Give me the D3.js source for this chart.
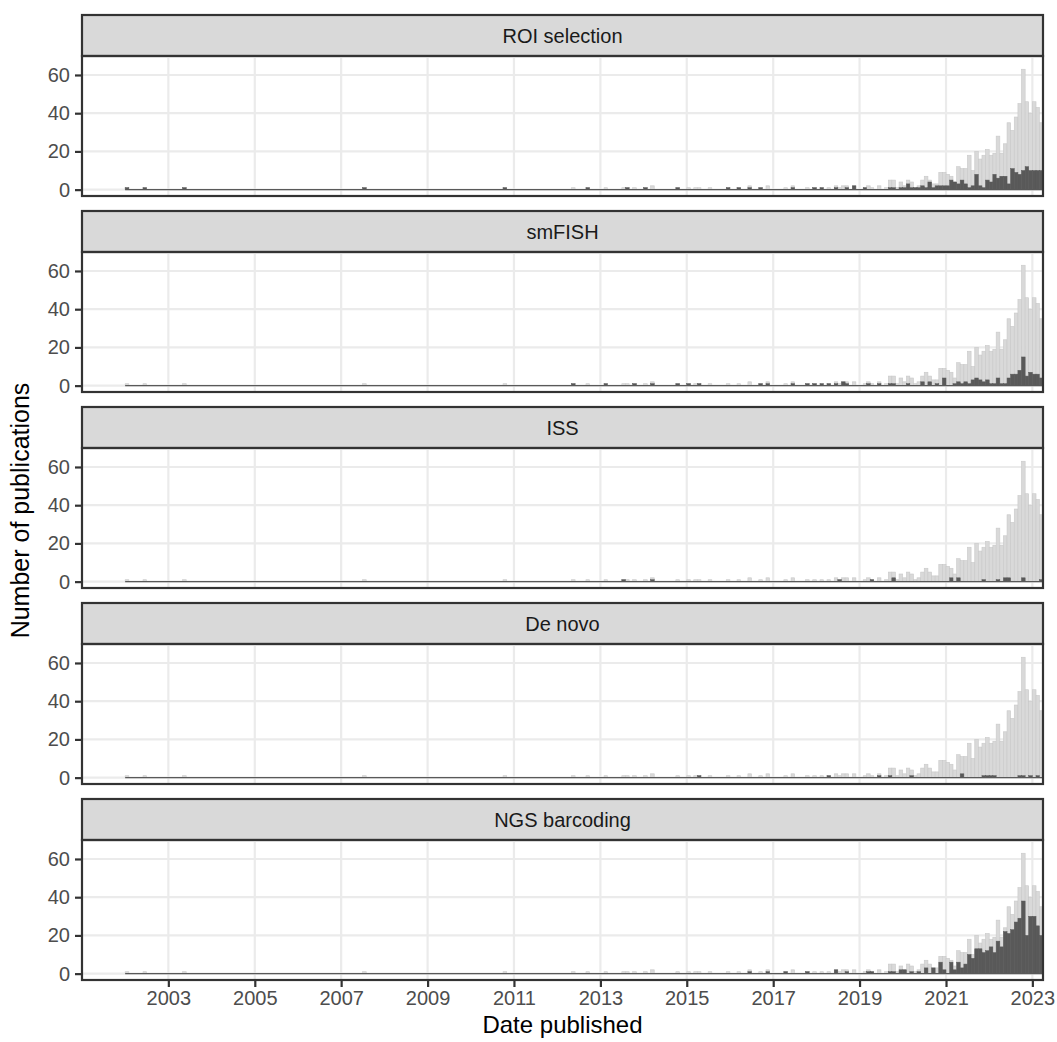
<!DOCTYPE html>
<html>
<head>
<meta charset="utf-8">
<script src="https://cdn.jsdelivr.net/npm/d3@7"></script>
<style>
  body { margin: 0; background: #ffffff; }
  text { font-family: "Liberation Sans", Arial, sans-serif; }
</style>
</head>
<body>
<script>
var w = 1057;
var h = 1042;

// facet names, top to bottom
var methods = ["ROI selection", "smFISH", "ISS", "De novo", "NGS barcoding"];
var yearTicks = [2003, 2005, 2007, 2009, 2011, 2013, 2015, 2017, 2019, 2021, 2023];
var yTicks = [0, 20, 40, 60];

// monthly counts, Jan 2002 .. Mar 2023, one year per line
// all publications (light bars, same in every panel)
var total = [
  1,0,0,0,0,1,0,0,0,0,0,0,
  0,0,0,0,1,0,0,0,0,0,0,0,
  0,0,0,0,0,0,0,0,0,0,0,0,
  0,0,0,0,0,0,0,0,0,0,0,0,
  0,0,0,0,0,0,0,0,0,0,0,0,
  0,0,0,0,0,0,1,0,0,0,0,0,
  0,0,0,0,0,0,0,0,0,0,0,0,
  0,0,0,0,0,0,0,0,0,0,0,0,
  0,0,0,0,0,0,0,0,0,1,0,0,
  0,0,0,0,0,0,0,0,0,0,0,0,
  0,0,0,0,1,0,0,0,1,0,0,0,
  0,1,0,0,0,0,1,1,0,1,0,0,
  1,0,2,0,0,0,0,0,0,1,0,0,
  1,0,1,1,0,0,1,0,0,0,0,1,
  0,0,1,0,0,2,0,0,1,0,2,0,
  0,0,0,1,0,2,0,0,0,1,0,1,
  0,1,0,1,0,2,1,2,2,0,2,0,
  0,1,2,1,0,2,0,1,5,5,1,4,
  2,5,4,1,2,5,7,5,3,3,9,9,
  8,7,4,12,11,11,18,10,20,16,18,21,
  18,19,28,19,24,35,31,38,45,63,46,40,
  46,43,35
];

var roi = [
  1,0,0,0,0,1,0,0,0,0,0,0,
  0,0,0,0,1,0,0,0,0,0,0,0,
  0,0,0,0,0,0,0,0,0,0,0,0,
  0,0,0,0,0,0,0,0,0,0,0,0,
  0,0,0,0,0,0,0,0,0,0,0,0,
  0,0,0,0,0,0,1,0,0,0,0,0,
  0,0,0,0,0,0,0,0,0,0,0,0,
  0,0,0,0,0,0,0,0,0,0,0,0,
  0,0,0,0,0,0,0,0,0,1,0,0,
  0,0,0,0,0,0,0,0,0,0,0,0,
  0,0,0,0,0,0,0,0,1,0,0,0,
  0,0,0,0,0,0,0,1,0,0,0,0,
  1,0,0,0,0,0,0,0,0,1,0,0,
  0,0,0,0,0,0,0,0,0,0,0,1,
  0,0,1,0,0,1,0,0,1,0,0,0,
  0,0,0,0,0,1,0,0,0,0,0,1,
  0,1,0,0,0,1,0,0,1,0,2,0,
  0,1,0,0,0,0,0,0,1,1,0,1,
  1,3,1,1,1,2,1,4,1,2,2,2,
  2,5,4,3,5,3,1,2,8,2,1,5,
  4,8,6,7,7,3,11,9,8,10,12,10,
  10,10,10
];

var smfish = [
  0,0,0,0,0,0,0,0,0,0,0,0,
  0,0,0,0,0,0,0,0,0,0,0,0,
  0,0,0,0,0,0,0,0,0,0,0,0,
  0,0,0,0,0,0,0,0,0,0,0,0,
  0,0,0,0,0,0,0,0,0,0,0,0,
  0,0,0,0,0,0,0,0,0,0,0,0,
  0,0,0,0,0,0,0,0,0,0,0,0,
  0,0,0,0,0,0,0,0,0,0,0,0,
  0,0,0,0,0,0,0,0,0,0,0,0,
  0,0,0,0,0,0,0,0,0,0,0,0,
  0,0,0,0,1,0,0,0,0,0,0,0,
  0,1,0,0,0,0,0,0,0,1,0,0,
  0,0,1,0,0,0,0,0,0,1,0,0,
  1,0,0,1,0,0,0,0,0,0,0,0,
  0,0,0,0,0,0,0,0,1,0,1,0,
  0,0,0,0,0,1,0,0,0,1,0,1,
  0,1,0,1,0,1,0,2,1,0,0,0,
  0,0,1,0,0,1,0,0,1,1,0,0,
  0,1,0,0,0,2,0,2,0,1,0,4,
  0,0,1,2,1,2,1,3,4,3,2,3,
  1,1,4,1,1,4,6,6,8,15,5,7,
  6,6,4
];

var iss = [
  0,0,0,0,0,0,0,0,0,0,0,0,
  0,0,0,0,0,0,0,0,0,0,0,0,
  0,0,0,0,0,0,0,0,0,0,0,0,
  0,0,0,0,0,0,0,0,0,0,0,0,
  0,0,0,0,0,0,0,0,0,0,0,0,
  0,0,0,0,0,0,0,0,0,0,0,0,
  0,0,0,0,0,0,0,0,0,0,0,0,
  0,0,0,0,0,0,0,0,0,0,0,0,
  0,0,0,0,0,0,0,0,0,0,0,0,
  0,0,0,0,0,0,0,0,0,0,0,0,
  0,0,0,0,0,0,0,0,0,0,0,0,
  0,0,0,0,0,0,1,0,0,0,0,0,
  0,0,1,0,0,0,0,0,0,0,0,0,
  0,0,0,0,0,0,0,0,0,0,0,0,
  0,0,0,0,0,0,0,0,0,0,0,0,
  0,0,0,0,0,0,0,0,0,0,0,0,
  0,0,0,0,0,0,1,0,0,0,0,0,
  0,0,0,1,0,0,0,0,0,2,0,0,
  0,0,0,0,0,0,0,0,0,0,0,0,
  0,2,0,2,0,0,0,0,0,0,1,0,
  0,0,1,0,2,2,0,0,0,2,0,0,
  0,0,1
];

var denovo = [
  0,0,0,0,0,0,0,0,0,0,0,0,
  0,0,0,0,0,0,0,0,0,0,0,0,
  0,0,0,0,0,0,0,0,0,0,0,0,
  0,0,0,0,0,0,0,0,0,0,0,0,
  0,0,0,0,0,0,0,0,0,0,0,0,
  0,0,0,0,0,0,0,0,0,0,0,0,
  0,0,0,0,0,0,0,0,0,0,0,0,
  0,0,0,0,0,0,0,0,0,0,0,0,
  0,0,0,0,0,0,0,0,0,0,0,0,
  0,0,0,0,0,0,0,0,0,0,0,0,
  0,0,0,0,0,0,0,0,0,0,0,0,
  0,0,0,0,0,0,0,0,0,0,0,0,
  0,0,0,0,0,0,0,0,0,0,0,0,
  0,0,0,1,0,0,0,0,0,0,0,0,
  0,0,0,0,0,0,0,0,0,0,0,0,
  0,0,0,0,0,0,0,0,0,0,0,0,
  0,0,0,1,0,0,0,0,0,0,0,0,
  0,0,0,0,0,1,0,0,1,0,0,0,
  0,0,1,0,0,0,0,0,0,0,0,0,
  0,0,0,0,2,0,0,0,0,0,1,1,
  1,1,0,0,0,0,0,0,1,1,0,1,
  0,1,0
];

var ngs = [
  0,0,0,0,0,0,0,0,0,0,0,0,
  0,0,0,0,0,0,0,0,0,0,0,0,
  0,0,0,0,0,0,0,0,0,0,0,0,
  0,0,0,0,0,0,0,0,0,0,0,0,
  0,0,0,0,0,0,0,0,0,0,0,0,
  0,0,0,0,0,0,0,0,0,0,0,0,
  0,0,0,0,0,0,0,0,0,0,0,0,
  0,0,0,0,0,0,0,0,0,0,0,0,
  0,0,0,0,0,0,0,0,0,0,0,0,
  0,0,0,0,0,0,0,0,0,0,0,0,
  0,0,0,0,0,0,0,0,0,0,0,0,
  0,0,0,0,0,0,0,0,0,0,0,0,
  0,0,0,0,0,0,0,0,0,0,0,0,
  0,0,0,0,0,0,0,0,0,0,0,0,
  0,0,0,0,0,1,0,0,0,0,1,0,
  0,0,0,1,0,0,0,0,0,1,0,0,
  0,0,0,0,0,2,0,0,1,0,0,0,
  0,0,1,1,0,0,0,0,1,1,0,2,
  2,0,1,0,1,0,3,0,3,0,6,2,
  0,6,2,6,3,5,10,8,13,13,11,12,
  14,11,17,14,22,21,23,27,29,38,20,30,
  30,25,20
];

var series = [roi, smfish, iss, denovo, ngs];

// one bin per month
var months = d3.timeMonth.range(new Date(2002, 0, 1), new Date(2023, 3, 1));

var panelLeft = 82;
var panelRight = 1043;
var facetTop = 15;      // top of first strip
var facetStep = 196;    // distance between facets
var stripH = 41;
var panelH = 140;

var lightFill = "#d9d9d9";
var darkFill = "#595959";
var lineCol = "#333333";

var svg = d3.select("body")
            .append("svg")
            .attr("width", w)
            .attr("height", h);

var xScale = d3.scaleTime()
               .domain([new Date(2001, 0, 1), new Date(2023, 3, 1)])
               .range([panelLeft, panelRight]);

var yScale = d3.scaleLinear()
               .domain([-3.33, 69.93])
               .range([panelH, 0]);

function barX(d, i) {
    return xScale(months[i]);
}
function barW(d, i) {
    return xScale(d3.timeMonth.offset(months[i], 1)) - xScale(months[i]);
}

methods.forEach(function (name, k) {
    var g = svg.append("g")
               .attr("transform", "translate(0," + (facetTop + k * facetStep) + ")");

    // strip
    g.append("rect")
     .attr("x", panelLeft)
     .attr("y", 0)
     .attr("width", panelRight - panelLeft)
     .attr("height", stripH)
     .attr("fill", "#d9d9d9")
     .attr("stroke", lineCol)
     .attr("stroke-width", 2.2);

    g.append("text")
     .attr("x", (panelLeft + panelRight) / 2)
     .attr("y", stripH / 2 + 7)
     .attr("text-anchor", "middle")
     .attr("font-size", 20)
     .attr("fill", "#1a1a1a")
     .text(name);

    var p = g.append("g")
             .attr("transform", "translate(0," + stripH + ")");

    // grid
    p.selectAll(".hgrid")
     .data(yTicks)
     .enter()
     .append("line")
     .attr("x1", panelLeft)
     .attr("x2", panelRight)
     .attr("y1", function (d) { return yScale(d); })
     .attr("y2", function (d) { return yScale(d); })
     .attr("stroke", "#ebebeb")
     .attr("stroke-width", 2.2);

    p.selectAll(".vgrid")
     .data(yearTicks)
     .enter()
     .append("line")
     .attr("x1", function (d) { return xScale(new Date(d, 0, 1)); })
     .attr("x2", function (d) { return xScale(new Date(d, 0, 1)); })
     .attr("y1", 0)
     .attr("y2", panelH)
     .attr("stroke", "#ebebeb")
     .attr("stroke-width", 2.2);

    // all publications
    p.selectAll(".light")
     .data(total)
     .enter()
     .append("rect")
     .attr("x", barX)
     .attr("width", barW)
     .attr("y", function (d) { return yScale(d); })
     .attr("height", function (d) { return yScale(0) - yScale(d); })
     .attr("fill", lightFill)
     .attr("stroke", "#c9c9c9")
     .attr("stroke-width", 0.6);

    // publications using this method
    p.selectAll(".dark")
     .data(series[k])
     .enter()
     .append("rect")
     .attr("x", barX)
     .attr("width", barW)
     .attr("y", function (d) { return yScale(d); })
     .attr("height", function (d) { return yScale(0) - yScale(d); })
     .attr("fill", darkFill)
     .attr("stroke", darkFill)
     .attr("stroke-width", 0.5);

    // zero-height bins still show as a thin line
    p.append("line")
     .attr("x1", xScale(months[0]))
     .attr("x2", xScale(d3.timeMonth.offset(months[months.length - 1], 1)))
     .attr("y1", yScale(0))
     .attr("y2", yScale(0))
     .attr("stroke", darkFill)
     .attr("stroke-width", 1.3);

    // border
    p.append("rect")
     .attr("x", panelLeft)
     .attr("y", 0)
     .attr("width", panelRight - panelLeft)
     .attr("height", panelH)
     .attr("fill", "none")
     .attr("stroke", lineCol)
     .attr("stroke-width", 2.2);

    var yAxis = d3.axisLeft(yScale)
                  .tickValues(yTicks)
                  .tickSize(6)
                  .tickPadding(5);

    var ya = p.append("g")
              .attr("transform", "translate(" + (panelLeft - 1) + ",0)")
              .call(yAxis);
    ya.select(".domain").remove();
    ya.selectAll("line").attr("stroke", lineCol).attr("stroke-width", 2.2);
    ya.selectAll("text")
      .attr("font-size", 20)
      .attr("font-family", null)
      .attr("fill", "#4d4d4d");

    if (k === methods.length - 1) {
        var xAxis = d3.axisBottom(xScale)
                      .tickValues(yearTicks.map(function (d) { return new Date(d, 0, 1); }))
                      .tickFormat(d3.timeFormat("%Y"))
                      .tickSize(6)
                      .tickPadding(4);
        var xa = p.append("g")
                  .attr("transform", "translate(0," + (panelH + 1) + ")")
                  .call(xAxis);
        xa.select(".domain").remove();
        xa.selectAll("line").attr("stroke", lineCol).attr("stroke-width", 2.2);
        xa.selectAll("text")
          .attr("font-size", 20)
          .attr("font-family", null)
          .attr("fill", "#4d4d4d");
    }
});

// axis titles
svg.append("text")
   .attr("x", (panelLeft + panelRight) / 2)
   .attr("y", 1033)
   .attr("text-anchor", "middle")
   .attr("font-size", 24)
   .attr("fill", "#000000")
   .text("Date published");

svg.append("text")
   .attr("transform", "translate(29," + ((facetTop + stripH + 4 * facetStep + stripH + panelH) / 2) + ") rotate(-90)")
   .attr("text-anchor", "middle")
   .attr("font-size", 25)
   .attr("fill", "#000000")
   .text("Number of publications");
</script>
</body>
</html>
